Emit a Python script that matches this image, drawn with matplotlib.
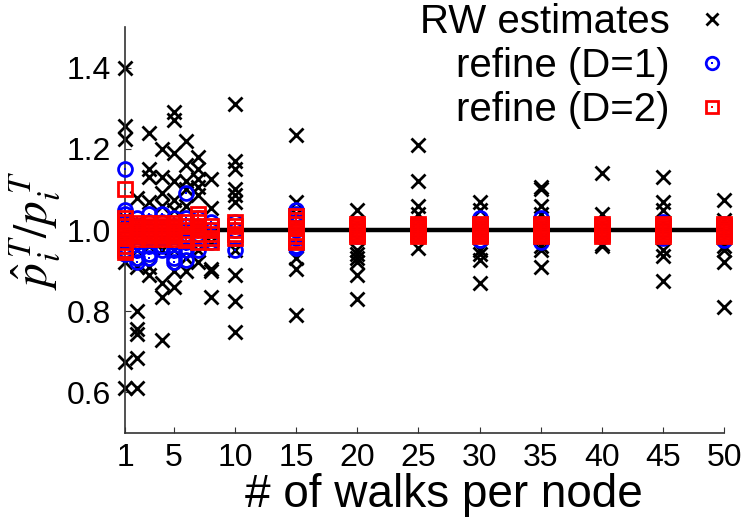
#!/usr/bin/env python

import numpy as np
import matplotlib
matplotlib.use('Agg')
import matplotlib.pyplot as plt
from matplotlib.lines import Line2D
from matplotlib.legend_handler import HandlerTuple

# walks per node -> ratio estimates
walks = [1, 2, 3, 4, 5, 6, 7, 8, 10, 15, 20, 25, 30, 35, 40, 45, 50]

rw = {
    1: [1.40, 1.255, 1.225, 1.03, 0.97, 0.92, 0.675, 0.61],
    2: [1.08, 1.02, 0.95, 0.91, 0.80, 0.755, 0.745, 0.685, 0.61],
    3: [1.24, 1.15, 1.13, 1.07, 0.96, 0.91, 0.89],
    4: [1.20, 1.13, 1.09, 1.06, 0.95, 0.87, 0.835, 0.73],
    5: [1.29, 1.27, 1.19, 1.12, 1.075, 1.05, 0.95, 0.90, 0.86],
    6: [1.22, 1.16, 1.12, 1.10, 1.06, 0.93, 0.90],
    7: [1.18, 1.15, 1.125, 1.105, 1.085, 0.95, 0.92],
    8: [1.125, 1.055, 0.97, 0.905, 0.90, 0.835],
    10: [1.31, 1.17, 1.15, 1.10, 1.085, 1.07, 0.95, 0.89, 0.825, 0.75],
    15: [1.235, 1.07, 1.04, 0.93, 0.905, 0.79],
    20: [1.05, 0.95, 0.94, 0.93, 0.92, 0.89, 0.83],
    25: [1.21, 1.12, 1.06, 1.04, 0.955],
    30: [1.07, 1.05, 0.95, 0.94, 0.925, 0.87],
    35: [1.105, 1.10, 1.06, 1.04, 0.96, 0.95, 0.91],
    40: [1.14, 1.04, 0.965, 0.96],
    45: [1.13, 1.07, 1.05, 0.95, 0.935, 0.875],
    50: [1.075, 1.025, 0.96, 0.95, 0.92, 0.81],
}

ref1 = {
    1: [1.15, 1.05, 1.04, 1.02, 1.0, 0.98, 0.96, 0.95, 0.94],
    2: [1.03, 1.01, 0.99, 0.97, 0.95, 0.93, 0.92],
    3: [1.04, 1.02, 1.0, 0.98, 0.96, 0.94, 0.93],
    4: [1.04, 1.02, 1.0, 0.98, 0.96, 0.95],
    5: [1.03, 1.01, 0.99, 0.97, 0.95, 0.93, 0.92],
    6: [1.09, 1.03, 1.01, 0.99, 0.97, 0.95, 0.925],
    7: [1.03, 1.01, 0.99, 0.97, 0.95],
    8: [1.02, 1.0, 0.98, 0.97],
    10: [1.02, 1.0, 0.98, 0.95],
    15: [1.05, 1.04, 1.02, 1.0, 0.98, 0.96, 0.955],
    20: [1.015, 1.0, 0.985],
    25: [1.01, 1.0, 0.99],
    30: [1.03, 1.0, 0.975],
    35: [1.03, 1.0, 0.97],
    40: [1.015, 1.0, 0.985],
    45: [1.02, 1.0, 0.98],
    50: [1.015, 1.0, 0.975],
}

ref2 = {
    1: [1.10, 1.03, 1.02, 1.01, 1.0, 0.99, 0.98, 0.97, 0.96, 0.95, 0.945],
    2: [1.017, 1.01, 1.005, 1.0, 0.995, 0.99, 0.985, 0.977],
    3: [1.017, 1.01, 1.005, 1.0, 0.995, 0.99, 0.985, 0.977],
    4: [1.017, 1.01, 1.005, 1.0, 0.995, 0.99, 0.985, 0.977],
    5: [1.017, 1.01, 1.005, 1.0, 0.995, 0.99, 0.985, 0.977],
    6: [1.02, 1.01, 1.0, 0.99, 0.98, 0.975],
    7: [1.04, 1.03, 1.02, 1.01, 1.0, 0.99, 0.98, 0.97],
    8: [1.01, 1.0, 0.99, 0.98, 0.97],
    10: [1.02, 1.01, 1.0, 0.99, 0.98],
    15: [1.035, 1.025, 1.015, 1.005, 0.995, 0.985, 0.975, 0.97],
    20: [1.015, 1.01, 1.005, 1.0, 0.995, 0.99, 0.985],
    25: [1.015, 1.01, 1.005, 1.0, 0.995, 0.99, 0.985],
    30: [1.015, 1.01, 1.005, 1.0, 0.995, 0.99, 0.985],
    35: [1.015, 1.01, 1.005, 1.0, 0.995, 0.99, 0.985],
    40: [1.015, 1.01, 1.005, 1.0, 0.995, 0.99, 0.985],
    45: [1.015, 1.01, 1.005, 1.0, 0.995, 0.99, 0.985],
    50: [1.015, 1.01, 1.005, 1.0, 0.995, 0.99, 0.985],
}

xticks = [1, 5, 10, 15, 20, 25, 30, 35, 40, 45, 50]
yticks = [0.6, 0.8, 1.0, 1.2, 1.4]


def flat(d):
    xs = [k for k in walks for v in d[k]]
    ys = [v for k in walks for v in d[k]]
    return xs, ys


plt.rcParams['font.family'] = ['Liberation Sans', 'DejaVu Sans']
plt.rcParams['mathtext.fontset'] = 'stix'

fig = plt.figure(figsize = (7.5, 5.25), dpi = 100)
ax = fig.add_axes([0.1667, 0.1752, 0.7987, 0.7734])

ax.axhline(1.0, color = 'black', lw = 3.2, zorder = 1)

x, y = flat(rw)
ax.plot(x, y, 'x', color = 'black', ms = 10, mew = 2.0, clip_on = False, zorder = 2)
x, y = flat(ref1)
ax.plot(x, y, 'o', mfc = 'none', mec = 'blue', ms = 10, mew = 2.0, clip_on = False, zorder = 3)
ax.plot(x, y, 's', color = 'blue', ms = 2, mew = 0, clip_on = False, zorder = 3)
x, y = flat(ref2)
ax.plot(x, y, 's', mfc = 'none', mec = 'red', ms = 10, mew = 2.0, clip_on = False, zorder = 4)
ax.plot(x, y, 's', color = 'red', ms = 2, mew = 0, clip_on = False, zorder = 4)

ax.set_xlim(1, 50)
ax.set_ylim(0.5, 1.5)
ax.set_xticks(xticks)
ax.set_xticklabels([str(t) for t in xticks])
ax.set_yticks(yticks)
ax.set_yticklabels(['%.1f' % t for t in yticks])
ax.tick_params(direction = 'in', length = 4, width = 0.8, labelsize = 23, colors = '#333333', labelcolor = 'black')
ax.tick_params(axis = 'y', pad = 10)
ax.tick_params(axis = 'x', pad = 7)
for s in ['top', 'right']:
    ax.spines[s].set_visible(False)
for s in ['left', 'bottom']:
    ax.spines[s].set_linewidth(1.2)
    ax.spines[s].set_color('#333333')

ax.set_xlabel('# of walks per node', fontsize = 33, labelpad = 0, x = 0.533)
ax.set_ylabel(r'$\hat{p}_i^{\,T}/p_i^{\,T}$', fontsize = 34, labelpad = 3)

h_rw = Line2D([], [], ls = 'none', marker = 'x', color = 'black', ms = 8, mew = 2)
h1 = (Line2D([], [], ls = 'none', marker = 'o', mfc = 'none', mec = 'blue', ms = 9, mew = 2),
      Line2D([], [], ls = 'none', marker = 's', color = 'blue', ms = 2, mew = 0))
h2 = (Line2D([], [], ls = 'none', marker = 's', mfc = 'none', mec = 'red', ms = 9, mew = 2),
      Line2D([], [], ls = 'none', marker = 's', color = 'red', ms = 2, mew = 0))
fig.legend([h_rw, h1, h2], ['RW estimates', 'refine (D=1)', 'refine (D=2)'],
           handler_map = {tuple: HandlerTuple(ndivide = 1, pad = 0)},
           loc = 'upper right', bbox_to_anchor = (0.965, 0.995), frameon = False,
           markerfirst = False, fontsize = 29, handlelength = 0.6, handletextpad = 0.75,
           labelspacing = 0.15, borderpad = 0.0, borderaxespad = 0.0)

plt.savefig('out.png', dpi = 100)
